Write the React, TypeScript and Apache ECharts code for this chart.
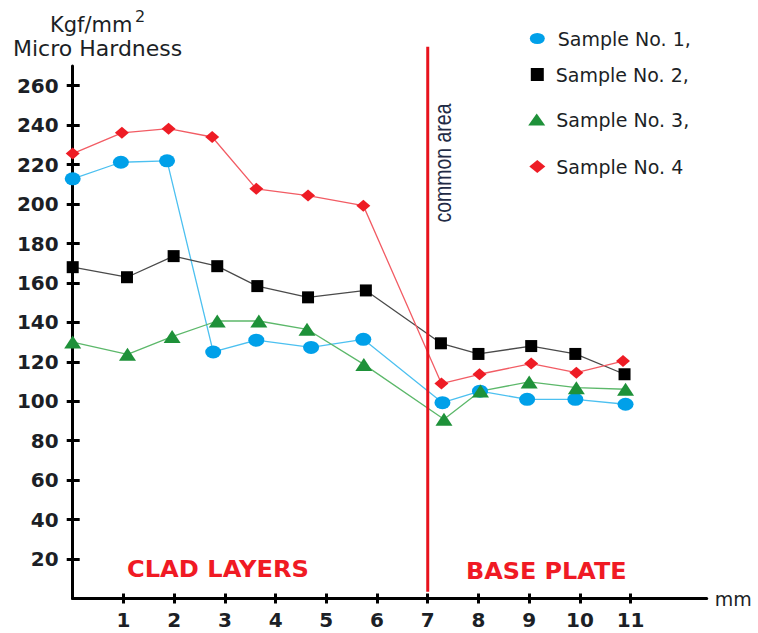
import React, { useEffect, useRef } from "react";
import * as echarts from "echarts";

const xTickValues = [1, 2, 3, 4, 5, 6, 7, 8, 9, 10, 11];
const yTickValues = [20, 40, 60, 80, 100, 120, 140, 160, 180, 200, 220, 240, 260];

const seriesNames = ["Sample No. 1,", "Sample No. 2,", "Sample No. 3,", "Sample No. 4"];

const sample1X = [0, 0.95, 1.86, 2.77, 3.62, 4.7, 5.73, 7.29, 8.03, 8.96, 9.91, 10.9];
const sample1Y = [212.8, 221.2, 221.9, 125.0, 131.0, 127.3, 131.4, 99.3, 105.1, 101.0, 101.0, 98.5];

const sample2X = [0, 1.07, 1.99, 2.85, 3.64, 4.64, 5.78, 7.26, 8.0, 9.04, 9.91, 10.88];
const sample2Y = [168.0, 162.9, 173.6, 168.5, 158.4, 152.7, 156.2, 129.4, 124.0, 128.0, 124.0, 113.7];

const sample3X = [0, 1.08, 1.96, 2.85, 3.67, 4.62, 5.74, 7.32, 8.04, 9.0, 9.93, 10.9];
const sample3Y = [130.0, 123.8, 132.8, 140.7, 140.7, 136.5, 118.7, 90.9, 105.2, 109.8, 106.9, 106.1];

const sample4X = [0, 0.97, 1.89, 2.75, 3.62, 4.64, 5.73, 7.27, 8.02, 9.04, 9.93, 10.85];
const sample4Y = [225.6, 236.1, 238.2, 234.0, 207.7, 204.3, 199.2, 109.0, 113.7, 119.1, 114.5, 120.4];

const boundaryX = 7;
const boundaryYFrom = 3.4;
const boundaryYTo = 279.7;
const commonAreaX = 7.3;
const commonAreaY = 220.8;

const ELLIPSE = "path://M0,5A5,5,0,1,1,10,5A5,5,0,1,1,0,5Z";

const zip = (xs: number[], ys: number[]) => xs.map((x, i) => [x, ys[i]]);

const DARK = "#1c1f26";
const FONT = "DejaVu Sans";

export default function App() {
  const ref = useRef<HTMLDivElement>(null);

  useEffect(() => {
    if (!ref.current) return;
    const chart = echarts.init(ref.current, null, { renderer: "svg" });

    const mkSeries = (
      name: string,
      xs: number[],
      ys: number[],
      symbol: string,
      symbolSize: number[],
      color: string,
      lineColor: string
    ) => ({
      name,
      type: "line",
      data: zip(xs, ys),
      symbol,
      symbolSize,
      symbolKeepAspect: false,
      itemStyle: { color, borderWidth: 0 },
      lineStyle: { color: lineColor, width: 1.3 },
      emphasis: { disabled: true },
    });

    const legendCommon = {
      orient: "vertical",
      padding: 0,
      selectedMode: false,
      symbolKeepAspect: false,
      textStyle: { fontFamily: FONT, fontSize: 19, color: DARK },
    };

    chart.setOption({
      animation: false,
      grid: { left: 72.7, right: 51.3, top: 66, bottom: 34.5 },
      xAxis: [
        {
          type: "value",
          min: 0,
          max: 12.5,
          position: "bottom",
          axisLine: { lineStyle: { color: "#000", width: 3 } },
          axisTick: { customValues: xTickValues, length: 5, lineStyle: { color: "#000", width: 3 } },
          axisLabel: {
            customValues: xTickValues,
            fontFamily: FONT,
            fontWeight: "bold",
            fontSize: 20,
            color: DARK,
            margin: 11,
          },
          splitLine: { show: false },
          name: "mm",
          nameLocation: "end",
          nameGap: 8,
          nameTextStyle: { fontFamily: FONT, fontSize: 19, color: DARK },
        },
        {
          type: "value",
          min: 0,
          max: 12.5,
          position: "bottom",
          axisLine: { show: false },
          axisTick: {
            inside: true,
            customValues: xTickValues,
            length: 5,
            lineStyle: { color: "#000", width: 3 },
          },
          axisLabel: { show: false },
          splitLine: { show: false },
        },
      ],
      yAxis: [
        {
          type: "value",
          min: 0,
          max: 270,
          position: "left",
          axisLine: { lineStyle: { color: "#000", width: 3 } },
          axisTick: { customValues: yTickValues, length: 6, lineStyle: { color: "#000", width: 3 } },
          axisLabel: {
            customValues: yTickValues,
            fontFamily: FONT,
            fontWeight: "bold",
            fontSize: 20,
            color: DARK,
            margin: 14,
          },
          splitLine: { show: false },
        },
        {
          type: "value",
          min: 0,
          max: 270,
          position: "left",
          axisLine: { show: false },
          axisTick: {
            inside: true,
            customValues: yTickValues,
            length: 7,
            lineStyle: { color: "#000", width: 3 },
          },
          axisLabel: { show: false },
          splitLine: { show: false },
        },
      ],
      legend: [
        {
          ...legendCommon,
          data: [{ name: seriesNames[0], icon: ELLIPSE }],
          left: 529.8,
          top: 29,
          itemWidth: 15,
          itemHeight: 11,
          textStyle: { ...legendCommon.textStyle, padding: [0, 0, 0, 8] },
        },
        {
          ...legendCommon,
          data: [{ name: seriesNames[1], icon: "rect" }],
          left: 530.8,
          top: 65,
          itemWidth: 13,
          itemHeight: 13,
          textStyle: { ...legendCommon.textStyle, padding: [0, 0, 0, 7] },
        },
        {
          ...legendCommon,
          data: [{ name: seriesNames[2], icon: "triangle" }],
          left: 528.2,
          top: 110,
          itemWidth: 17,
          itemHeight: 12,
          textStyle: { ...legendCommon.textStyle, padding: [0, 0, 0, 6] },
        },
        {
          ...legendCommon,
          data: [{ name: seriesNames[3], icon: "diamond" }],
          left: 529.3,
          top: 157,
          itemWidth: 16,
          itemHeight: 13,
          textStyle: { ...legendCommon.textStyle, padding: [0, 0, 0, 6] },
        },
      ],
      series: [
        mkSeries(seriesNames[0], sample1X, sample1Y, ELLIPSE, [16, 13], "#00a0e9", "#4cc0f0"),
        mkSeries(seriesNames[1], sample2X, sample2Y, "rect", [12, 12], "#000000", "#4a4a4a"),
        mkSeries(seriesNames[2], sample3X, sample3Y, "triangle", [17, 13], "#1e9139", "#5cb86a"),
        mkSeries(seriesNames[3], sample4X, sample4Y, "diamond", [14, 12], "#ee1c25", "#f25c64"),
      ],
    });

    const p1 = chart.convertToPixel({ xAxisIndex: 0, yAxisIndex: 0 }, [boundaryX, boundaryYFrom]) as number[];
    const p2 = chart.convertToPixel({ xAxisIndex: 0, yAxisIndex: 0 }, [boundaryX, boundaryYTo]) as number[];
    const pc = chart.convertToPixel({ xAxisIndex: 0, yAxisIndex: 0 }, [commonAreaX, commonAreaY]) as number[];

    chart.setOption({
      graphic: [
        {
          type: "line",
          shape: { x1: p1[0], y1: p1[1], x2: p2[0], y2: p2[1] },
          style: { stroke: "#e8121c", lineWidth: 3 },
          z: 10,
        },
        {
          type: "text",
          x: pc[0],
          y: pc[1],
          rotation: Math.PI / 2,
          scaleY: 1.2,
          style: {
            text: "common area",
            fontFamily: "Liberation Sans Narrow, Liberation Sans",
            fontSize: 19.5,
            fill: "#1f2b45",
            align: "center",
            verticalAlign: "middle",
          },
        },
        {
          type: "text",
          x: 50,
          y: 24.5,
          style: {
            text: "Kgf/mm",
            fontFamily: FONT,
            fontSize: 21,
            fill: DARK,
            align: "left",
            verticalAlign: "middle",
          },
        },
        {
          type: "text",
          x: 135,
          y: 16,
          style: {
            text: "2",
            fontFamily: FONT,
            fontSize: 16,
            fill: DARK,
            align: "left",
            verticalAlign: "middle",
          },
        },
        {
          type: "text",
          x: 13,
          y: 48.5,
          style: {
            text: "Micro Hardness",
            fontFamily: FONT,
            fontSize: 22,
            fill: DARK,
            align: "left",
            verticalAlign: "middle",
          },
        },
        {
          type: "text",
          x: 127,
          y: 569,
          scaleX: 1.05,
          style: {
            text: "CLAD LAYERS",
            fontFamily: FONT,
            fontWeight: "bold",
            fontSize: 23,
            fill: "#f01a24",
            align: "left",
            verticalAlign: "middle",
          },
        },
        {
          type: "text",
          x: 466,
          y: 571,
          scaleX: 1.04,
          style: {
            text: "BASE PLATE",
            fontFamily: FONT,
            fontWeight: "bold",
            fontSize: 23,
            fill: "#f01a24",
            align: "left",
            verticalAlign: "middle",
          },
        },
      ],
    });

    return () => chart.dispose();
  }, []);

  return (
    <div
      ref={ref}
      style={{ position: "fixed", left: 0, top: 0, width: 758, height: 633, background: "#fff" }}
    />
  );
}
